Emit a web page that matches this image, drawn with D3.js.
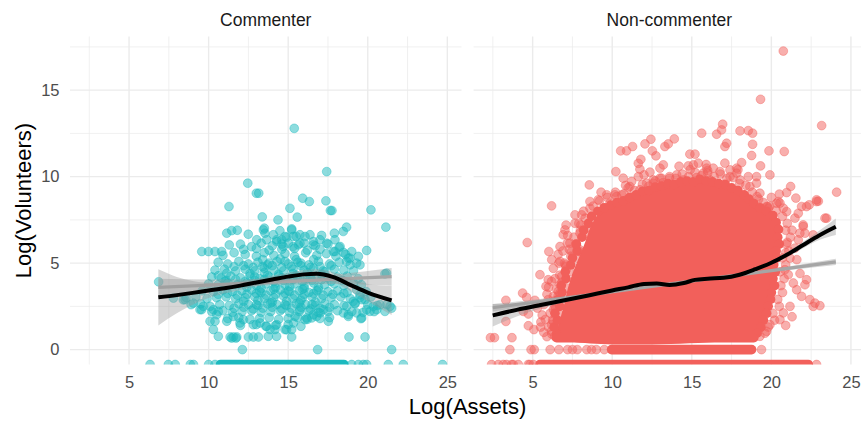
<!DOCTYPE html>
<html>
<head>
<meta charset="utf-8">
<script src="https://cdn.jsdelivr.net/npm/d3@7/dist/d3.min.js"></script>
<style>
  body { margin: 0; background: #fff; }
  svg { display: block; }
  text { font-family: "Liberation Sans", Arial, Helvetica, sans-serif; }
</style>
</head>
<body>
<svg id="chart" width="861" height="421"></svg>
<script>
// ---- Facets and axis ticks ----
const facets = ["Commenter", "Non-commenter"];
const xTicks = [5, 10, 15, 20, 25];
const yTicks = [0, 5, 10, 15];
const xMinorTicks = [2.5, 7.5, 12.5, 17.5, 22.5];
const yMinorTicks = [2.5, 7.5, 12.5, 17.5];

// ---- Commenter organisations: [log(assets), log(volunteers)] ----
// -Infinity marks organisations reporting no volunteers (drawn on the panel floor).
const commenterPoints = [
  [15.38,12.79],[17.42,10.29],[12.46,9.62],[13.0,9.04],[13.15,9.04],[15.91,8.75],[16.33,8.56],[17.37,8.6],
  [11.28,8.27],[15.11,8.17],[17.65,8.04],[17.75,8.04],[20.2,8.08],[13.37,7.67],[15.57,7.66],[14.36,7.5],
  [21.14,7.08],[18.67,7.08],[15.22,6.98],[18.46,6.83],[11.14,6.73],[11.45,6.88],[11.8,6.9],[12.49,6.67],
  [13.5,7.02],[13.54,6.73],[13.02,6.35],[14.07,6.64],[14.48,6.87],[14.28,6.35],[14.59,6.35],[17.9,6.73],
  [17.94,6.35],[17.1,6.6],[13.44,6.92],[13.65,6.35],[14.8,6.54],[15.22,6.92],[15.33,6.54],[15.74,6.64],
  [16.06,6.54],[16.37,6.64],[16.58,6.25],[17.0,6.35],[14.9,6.5],[15.5,6.55],[14.28,6.25],[15.01,6.15],
  [15.64,6.06],[18.26,5.96],[17.84,5.67],[9.57,5.67],[9.99,5.67],[10.4,5.67],[10.82,5.67],[18.99,5.67],
  [19.93,5.73],[18.47,5.62],[19.41,5.39],[18.78,5.29],[21.08,4.38],[21.18,4.42],
  [14.69,5.96],[15.74,6.15],[16.58,6.06],[17.42,6.15],[17.94,5.67],[18.88,5.29],[19.51,4.9],[18.67,5.1],
  [6.86,3.92],[7.79,2.98],[8.52,2.89],[9.04,2.69],[9.46,2.31],[9.67,2.5],[10.3,2.31],[10.51,2.02],
  [10.09,1.64],[10.4,1.64],[10.3,1.16],[10.61,0.77],[11.35,0.73],[11.56,0.73],[11.77,0.73],[12.5,0.73],
  [12.81,0.73],[13.13,0.73],[11.97,1.54],[12.18,1.73],[12.81,1.44],[13.23,1.54],[13.86,1.16],[14.17,1.16],
  [13.65,1.35],[14.28,1.44],[14.8,1.16],[15.22,1.16],[15.22,0.73],[15.33,1.54],[16.06,1.73],[16.48,1.83],
  [16.79,1.92],[17.0,2.12],[17.52,1.64],[21.4,2.5],[21.5,2.4],[20.35,2.5],[20.77,2.6],[19.93,2.31],
  [19.83,2.89],[19.51,3.17],[19.09,2.79],[18.68,2.5],[18.47,2.12],[18.78,2.02],[19.3,2.12],[19.57,1.79],
  [19.83,0.73],[18.82,0.73],[16.85,0.0],[21.5,0.0],[12.12,0.0],[8.41,2.88],[9.56,2.31],[10.09,2.5],
  [10.61,2.21],[11.14,1.64],[11.55,1.92],[11.45,0.67],[11.72,0.67],[13.75,0.77],[14.27,0.77],
  [10.61,4.27],[11.14,4.42],[11.03,3.94],[21.08,2.21],[20.56,2.31],[20.14,2.21],[19.62,1.83],[19.62,2.89],
  [19.2,2.69],[18.78,1.92],[17.21,2.31],[16.58,2.02],[16.16,1.83],[15.74,2.31],[14.9,1.15],[15.43,1.92],
  [11.3,6.05],[12.0,6.1],[12.7,5.95],[13.3,6.15],[14.0,6.0],[14.6,6.1],[15.3,5.95],[16.0,6.15],[16.7,6.0],[17.5,6.1],[18.2,5.9],
  [10.9,5.45],[11.6,5.6],[12.3,5.5],[13.0,5.4],[13.5,5.6],[14.1,5.45],[14.8,5.55],[15.4,5.4],[16.1,5.6],[16.8,5.45],[17.4,5.55],[18.0,5.4],[18.6,5.5],
  [10.6,5.05],[11.2,4.95],[11.9,5.1],[12.5,4.95],[13.1,5.05],[13.7,4.9],[14.3,5.1],[15.0,4.95],[15.6,5.05],[16.3,4.9],[16.9,5.1],[17.6,4.95],[18.2,5.05],[18.9,4.9],[19.3,5.0],
  [10.4,4.6],[11.0,4.65],[11.7,4.55],[12.3,4.65],[12.9,4.55],[13.5,4.7],[14.1,4.6],[14.7,4.55],[15.3,4.65],[16.0,4.6],[16.6,4.7],[17.2,4.55],[17.9,4.65],[18.5,4.6],[19.1,4.55],
  [10.2,4.2],[10.8,4.15],[11.4,4.25],[12.0,4.15],[12.6,4.25],[13.2,4.1],[13.8,4.2],[14.4,4.25],[15.0,4.15],[15.6,4.2],[16.2,4.1],[16.8,4.25],[17.5,4.15],[18.1,4.2],[18.7,4.25],[19.4,4.1],
  [10.0,3.8],[10.6,3.75],[11.2,3.85],[11.8,3.75],[12.4,3.85],[13.0,3.7],[13.6,3.8],[14.2,3.85],[14.8,3.75],[15.4,3.8],[16.0,3.7],[16.6,3.85],[17.3,3.75],[17.9,3.8],[18.5,3.7],[19.1,3.85],[19.6,3.75],
  [9.6,3.4],[10.3,3.35],[10.9,3.45],[11.5,3.35],[12.1,3.4],[12.7,3.45],[13.3,3.3],[13.9,3.4],[14.5,3.45],[15.1,3.35],[15.7,3.4],[16.3,3.3],[16.9,3.45],[17.5,3.35],[18.1,3.4],[18.7,3.3],[19.3,3.45],[19.9,3.35],
  [8.6,3.0],[9.2,3.05],[9.9,2.95],[10.5,3.0],[11.1,3.05],[11.7,2.95],[12.3,3.0],[12.9,3.05],[13.5,2.95],[14.1,3.0],[14.7,3.1],[15.3,2.95],[15.9,3.0],[16.5,3.05],[17.1,2.95],[17.7,3.0],[18.3,3.05],[18.9,2.95],[19.5,3.0],[20.2,3.05],
  [8.9,2.6],[9.5,2.65],[10.7,2.6],[11.3,2.55],[11.9,2.65],[12.5,2.6],[13.1,2.55],[13.7,2.65],[14.3,2.6],[14.9,2.55],[15.5,2.65],[16.1,2.6],[16.7,2.55],[17.3,2.65],[17.9,2.6],[18.5,2.55],[19.2,2.65],[20.0,2.6],[20.6,2.55],[21.2,2.6],
  [10.2,2.2],[10.9,2.25],[11.5,2.15],[12.1,2.2],[12.7,2.25],[13.3,2.15],[13.9,2.2],[14.5,2.25],[15.1,2.15],[15.7,2.2],[16.3,2.25],[16.9,2.15],[17.5,2.2],[18.1,2.25],[19.0,2.2],[19.7,2.15],[20.4,2.2],
  [11.2,1.8],[11.9,1.85],[12.6,1.75],[13.2,1.8],[13.8,1.85],[14.4,1.75],[15.0,1.8],[15.6,1.85],[16.2,1.75],[17.0,1.8],[17.6,1.85],
  [12.0,1.4],[13.0,1.45],[13.6,1.35],[14.2,1.4],[15.0,1.45],[15.8,1.35],
  [12.6,4.4],[13.5,4.45],[14.4,4.35],[15.3,4.4],[16.2,4.45],[17.1,4.35],
  [12.4,3.6],[13.3,3.55],[14.2,3.6],[15.1,3.65],[16.0,3.55],[16.9,3.6],
  [12.2,2.8],[13.1,2.85],[14.0,2.75],[14.9,2.8],[15.8,2.85],[16.7,2.75],
  [13.4,5.2],[14.5,5.25],[15.5,5.2],
  [11.6,4.8],[12.2,4.85],[12.8,4.75],[13.4,4.8],[14.0,4.85],[14.6,4.75],[15.2,4.8],[15.8,4.85],[16.4,4.75],[17.0,4.8],[17.7,4.85],
  [11.1,4.0],[11.7,4.05],[12.3,3.95],[12.9,4.0],[13.5,4.05],[14.1,3.95],[14.7,4.0],[15.3,4.05],[15.9,3.95],[16.5,4.0],[17.1,4.05],[17.7,3.95],[18.4,4.0],
  [10.6,3.2],[11.2,3.25],[11.8,3.15],[12.4,3.2],[13.0,3.25],[13.6,3.15],[14.2,3.2],[14.8,3.25],[15.4,3.15],[16.0,3.2],[16.6,3.25],[17.2,3.15],[17.8,3.2],[18.5,3.25],
  [11.6,2.4],[12.2,2.45],[12.8,2.35],[13.4,2.4],[14.0,2.45],[14.6,2.35],[15.2,2.4],[15.8,2.45],[16.4,2.35],[17.0,2.4],[17.6,2.45],
  [12.2,5.8],[13.0,5.85],[13.8,5.75],[14.6,5.8],[15.4,5.85],[16.2,5.75],[17.0,5.8],
  [12.9,4.2],[13.7,4.3],[14.6,4.15],[15.5,4.3],[16.4,4.2],[13.2,3.4],[14.1,3.5],[15.0,3.4],[15.9,3.5],[16.8,3.4],
  [13.0,2.6],[13.9,2.7],[14.8,2.6],[15.7,2.7],[16.5,2.6],[13.8,5.0],[14.8,5.1],[15.8,5.0],[16.6,5.2],[17.3,4.5],
  [6.32,-Infinity],[7.47,-Infinity],[7.9,-Infinity],[8.85,-Infinity],[9.05,-Infinity],[10.0,-Infinity],
  [10.4,-Infinity],[18.99,-Infinity],[19.41,-Infinity],[19.72,-Infinity],[19.93,-Infinity],[21.29,-Infinity],
  [22.23,-Infinity],[24.7,-Infinity]
];
// Unbroken stretches of overlapping points: [from, to, log(volunteers)]
const commenterRuns = [[10.75, 18.5, -Infinity]];

// ---- Non-commenter organisations ----
const nonCommenterPoints = [
  [20.75,17.26],[19.32,14.47],[23.16,12.95],[16.94,13.03],[16.87,12.7],[16.56,12.45],[15.62,12.51],[18.03,12.64],
  [18.55,12.66],[18.82,12.51],[18.82,11.87],[17.19,11.93],[17.08,11.74],[19.85,11.49],[20.81,11.45],[18.76,11.22],
  [13.9,12.18],[14.88,11.3],[15.2,11.3],[14.78,10.62],[15.1,10.68],[15.41,10.78],[15.93,10.49],[16.35,10.49],
  [17.08,10.78],[17.82,10.49],[18.13,10.81],[19.32,10.62],[19.91,10.1],[19.07,10.0],[24.1,9.1],[22.95,8.58],
  [21.21,9.43],[20.96,9.08],[20.5,8.99],[20.43,8.56],[21.54,8.76],[22.38,8.37],[21.9,8.27],[19.76,8.27],[20.75,8.18],
  [6.19,8.31],[8.56,9.52],[8.6,8.56],[9.12,8.66],[9.65,8.95],[10.17,8.95],[10.74,9.01],[10.23,10.29],
  [10.53,11.49],[10.9,11.49],[11.28,11.74],[12.06,11.89],[12.43,12.16],[12.52,11.49],[12.75,11.2],[13.31,11.74],
  [13.52,11.89],[11.64,10.77],[11.8,11.0],[11.74,10.43],[12.37,10.26],[13.0,10.49],[13.21,10.68],[10.69,9.91],
  [10.84,9.49],[11.22,9.72],[11.64,10.0],[13.0,9.91],[12.58,9.62],
  [4.66,6.19],[6.02,5.67],[7.66,7.79],[8.03,7.21],[8.39,7.02],[6.92,6.64],[7.18,6.16],[6.72,5.96],[8.5,6.58],
  [7.97,6.73],[7.45,5.67],[7.97,5.67],[6.65,5.0],[7.07,4.9],[5.46,4.33],[5.98,4.04],[6.19,3.94],[5.84,3.66],
  [4.37,3.27],[3.32,2.85],[4.62,3.02],[5.14,2.85],[5.98,2.89],[6.3,3.08],[6.72,3.27],[4.41,2.21],[4.73,2.06],
  [6.3,2.31],[3.32,1.63],[4.73,1.38],[5.08,1.16],[5.52,1.6],[6.19,1.44],[6.61,1.16],[6.92,1.44],
  [2.35,0.69],[2.6,0.69],[3.7,0.69],
  [6.72,5.1],[7.09,4.81],[7.34,4.52],[6.82,4.23],[6.72,3.75],[7.18,3.56],[6.61,3.37],[6.82,2.89],[6.4,2.5],
  [6.72,2.02],[6.3,1.64],[6.61,1.35],[6.19,1.06],[6.4,0.77],[7.03,6.92],[7.66,7.3],[8.08,7.79],[8.6,8.17],
  [7.34,6.16],[7.97,5.77],[7.76,5.29],
  [11.11,9.43],[11.74,9.24],[12.16,9.62],[12.58,9.81],[13.1,9.91],[10.28,8.85],[10.9,8.66],[11.53,8.66],
  [9.86,8.47],[10.07,8.27],[9.65,8.18],[14.05,10.1],[14.47,9.81],[15.72,10.2],[16.77,10.29],[16.14,9.81],
  [17.4,10.0],[18.03,9.81],[19.07,9.62],[18.65,9.43],[19.28,9.04],[19.7,8.27],[20.54,8.47],[18.55,10.0],
  [17.82,10.2],[17.4,10.39],[13.6,9.9],[14.9,10.4],[15.3,9.95],[16.0,10.35],[19.2,8.7],
  [19.81,8.17],[20.33,8.46],[20.96,7.98],[21.48,7.6],[22.0,7.21],[22.11,6.73],[21.69,6.35],[21.48,5.87],
  [21.17,5.29],[20.85,4.62],[21.06,4.33],[21.38,3.85],[21.59,3.46],[22.11,3.75],[21.9,3.08],[22.42,2.89],
  [23.05,2.54],[22.74,2.69],[21.17,2.5],[20.75,2.12],[20.54,1.73],[19.91,1.44],[19.7,1.06],[19.28,0.77],
  [22.21,8.27],[22.84,8.66],[23.37,7.6],[22.63,6.63],[21.69,7.88],[22.84,8.56],[23.47,7.6],[22.0,7.12],
  [21.79,6.73],[22.21,4.04],[22.63,2.5],[21.3,6.9],[21.0,6.2],[20.9,5.6],
  [6.2,0.9],[6.0,1.3],[6.25,1.7],[6.1,2.1],[6.45,2.4],[6.3,2.8],[6.6,3.1],[6.5,3.5],[6.85,3.9],[6.7,4.3],
  [7.1,4.6],[7.0,5.0],[7.4,5.4],[7.3,5.8],[7.7,6.1],[7.6,6.5],[8.0,6.9],[7.9,7.3],[8.3,7.6],[8.2,8.0],
  [8.8,8.3],[9.2,8.6],[9.7,8.8],[10.2,9.1],[10.6,8.95],[11.0,9.35],[11.4,9.2],[11.9,9.55],[12.3,9.45],
  [12.7,9.75],[13.2,9.65],[13.6,10.0],[14.0,9.9],[14.4,10.15],[14.8,10.0],[15.2,10.25],[15.6,10.05],
  [16.0,10.2],[16.4,10.0],[16.8,10.15],[17.2,9.9],[17.6,9.95],[18.0,9.6],[18.4,9.5],[18.8,9.1],[19.1,8.85],
  [19.5,8.5],[19.9,8.3],[20.3,8.05],[20.7,7.7],[21.0,7.3],[20.9,6.9],[21.2,6.5],[20.95,6.1],[21.1,5.7],
  [20.7,5.3],[20.9,4.9],[20.55,4.5],[20.8,4.1],[20.6,3.7],[20.7,3.3],[20.4,2.9],[20.5,2.5],[20.1,2.1],
  [20.2,1.7],[19.8,1.3],[19.6,0.95],
  [5.7,1.0],[5.6,2.0],[5.9,3.2],[6.3,4.7],[6.6,5.5],[7.1,7.2],[9.3,9.1],[12.0,10.1],[14.2,10.6],[15.9,10.7],
  [17.9,10.4],[20.0,8.8],[21.6,5.2],[21.8,4.4],[21.3,1.9],[20.9,1.4],
  [5.9,0.75],[5.5,1.3],[5.8,1.75],[5.3,2.4],[5.7,2.6],[6.0,3.6],[6.4,4.1],[6.2,5.2],[6.9,5.7],[7.2,6.6],
  [3.57,0],[4.9,0],[5.1,0],[6.1,0],[6.65,0],[7.2,0],[7.5,0],[7.8,0],[8.4,0],[8.7,0],[9.0,0],[9.5,0],[19.38,0],
  [2.42,-Infinity],[2.84,-Infinity],[3.15,-Infinity],[3.36,-Infinity],[3.68,-Infinity],[3.78,-Infinity],
  [4.1,-Infinity],[4.72,-Infinity],[4.83,-Infinity],[5.04,-Infinity],[22.84,-Infinity]
];
// Stacks of many coincident points along the edge of the dense mass (drawn opaque)
const nonCommenterRim = [
  [6.5,0.9],[6.35,1.3],[6.55,1.7],[6.4,2.1],[6.7,2.5],[6.6,2.9],[6.85,3.3],[6.8,3.7],[7.1,4.1],[7.05,4.5],
  [7.4,4.9],[7.5,5.3],[7.8,5.7],[7.75,6.1],[8.1,6.5],[8.2,6.9],[8.5,7.3],[8.7,7.7],[9.1,8.0],[9.5,8.2],
  [9.9,8.35],[10.3,8.5],[10.7,8.6],[11.1,8.8],[11.5,8.95],[11.9,9.15],[12.3,9.2],[12.7,9.4],[13.1,9.45],
  [13.5,9.6],[13.9,9.55],[14.3,9.7],[14.7,9.75],[15.1,9.7],[15.5,9.85],[15.9,9.75],[16.3,9.7],[16.7,9.6],
  [17.1,9.55],[17.5,9.35],[17.9,9.2],[18.3,8.95],[18.6,8.7],[18.9,8.45],[19.3,8.2],[19.7,8.0],[20.1,7.75],
  [20.3,7.35],[20.45,6.95],[20.4,6.5],[20.5,6.1],[20.3,5.7],[20.35,5.3],[20.15,4.9],[20.25,4.5],[20.1,4.1],
  [20.2,3.7],[20.0,3.3],[19.95,2.9],[19.8,2.5],[19.7,2.1],[19.5,1.7],[19.35,1.3],[19.1,0.95]
];
const nonCommenterRuns = [[6.5, 18.9, 0.69], [9.96, 18.76, 0], [5.46, 22.32, -Infinity]];
// Outline of the saturated mass of overlapping points
const nonCommenterCore = [
  [6.7,0.69],[6.6,1.3],[6.8,2.0],[7.0,2.7],[7.2,3.5],[7.5,4.4],[7.9,5.3],[8.3,6.2],[8.6,7.0],[9.0,7.7],
  [9.6,8.2],[10.4,8.5],[11.2,8.8],[12.0,9.1],[12.8,9.3],[13.6,9.5],[14.5,9.6],[15.4,9.7],[16.3,9.65],
  [17.2,9.5],[18.0,9.15],[18.6,8.7],[19.2,8.2],[19.9,7.8],[20.4,7.0],[20.4,6.0],[20.1,5.0],[20.1,4.0],
  [19.9,3.1],[19.6,2.3],[19.3,1.5],[19.0,0.9],[18.7,0.69]
];

// ---- Smoothers: [x, fit, lower, upper] ----
const commenterLoess = [
  [6.84,3.02,1.4,4.64],[8.0,3.15,2.1,4.2],[9.0,3.28,2.6,3.96],[10.0,3.42,2.98,3.86],[11.0,3.55,3.24,3.86],
  [12.0,3.7,3.45,3.95],[13.0,3.88,3.66,4.1],[14.0,4.05,3.83,4.27],[15.0,4.22,3.99,4.45],[16.0,4.35,4.1,4.6],
  [16.8,4.38,4.12,4.64],[17.8,4.2,3.92,4.48],[19.0,3.7,3.33,4.07],[20.0,3.3,2.8,3.8],[21.5,2.85,2.0,3.7]
];
const commenterLinear = [
  [6.84,3.6,3.1,4.1],[10.0,3.73,3.4,4.06],[14.0,3.9,3.74,4.06],[18.0,4.07,3.8,4.34],[21.5,4.22,3.72,4.72]
];
const nonCommenterLoess = [
  [2.49,1.98,1.33,2.63],[4.0,2.3,1.92,2.68],[5.5,2.58,2.38,2.78],[7.0,2.85,2.72,2.98],[8.5,3.13,3.04,3.22],
  [10.0,3.42,3.36,3.48],[11.0,3.6,3.55,3.65],[12.0,3.8,3.75,3.85],[12.8,3.82,3.77,3.87],[13.6,3.74,3.7,3.78],
  [14.5,3.85,3.81,3.89],[15.2,4.03,3.99,4.07],[16.0,4.1,4.06,4.14],[17.0,4.15,4.1,4.2],[18.0,4.33,4.27,4.39],
  [19.0,4.65,4.57,4.73],[20.0,5.02,4.92,5.12],[21.0,5.5,5.36,5.64],[22.0,6.05,5.86,6.24],[23.0,6.6,6.33,6.87],
  [24.05,7.1,6.62,7.58]
];
const nonCommenterLinear = [
  [2.49,2.42,2.2,2.64],[8.0,3.1,3.02,3.18],[14.0,3.84,3.81,3.87],[20.0,4.57,4.49,4.65],[24.05,5.07,4.89,5.25]
];

const facetData = [
  { name: facets[0], color: "#1BB9BE", points: commenterPoints, rim: [], runs: commenterRuns, core: null,
    loess: commenterLoess, linear: commenterLinear },
  { name: facets[1], color: "#F2605B", points: nonCommenterPoints, rim: nonCommenterRim, runs: nonCommenterRuns,
    core: nonCommenterCore, loess: nonCommenterLoess, linear: nonCommenterLinear }
];

// ---- Layout ----
const svg = d3.select("#chart");
const panelLeft = [70, 473.6];
const panelWidth = 391.5;
const panelTop = 36.5, panelBottom = 364.5;
const radius = 4.4;
const gridColor = "#EBEBEB";

const y = d3.scaleLinear().domain([-0.86, 18.1]).range([panelBottom, panelTop]);
const yPos = v => Number.isFinite(v) ? y(v) : panelBottom;

facetData.forEach((f, i) => {
  const x = d3.scaleLinear().domain([1.29, 25.89]).range([panelLeft[i], panelLeft[i] + panelWidth]);
  const g = svg.append("g");
  const clipId = "clip" + i;
  svg.append("clipPath").attr("id", clipId).append("rect")
    .attr("x", panelLeft[i]).attr("y", panelTop).attr("width", panelWidth).attr("height", panelBottom - panelTop);

  // grid
  const grid = g.append("g");
  grid.selectAll("line.xminor").data(xMinorTicks).join("line")
    .attr("x1", d => x(d)).attr("x2", d => x(d)).attr("y1", panelTop).attr("y2", panelBottom)
    .attr("stroke", gridColor).attr("stroke-width", 0.75);
  grid.selectAll("line.yminor").data(yMinorTicks).join("line")
    .attr("x1", panelLeft[i]).attr("x2", panelLeft[i] + panelWidth).attr("y1", d => y(d)).attr("y2", d => y(d))
    .attr("stroke", gridColor).attr("stroke-width", 0.75);
  grid.selectAll("line.xmajor").data(xTicks).join("line")
    .attr("x1", d => x(d)).attr("x2", d => x(d)).attr("y1", panelTop).attr("y2", panelBottom)
    .attr("stroke", gridColor).attr("stroke-width", 1.4);
  grid.selectAll("line.ymajor").data(yTicks).join("line")
    .attr("x1", panelLeft[i]).attr("x2", panelLeft[i] + panelWidth).attr("y1", d => y(d)).attr("y2", d => y(d))
    .attr("stroke", gridColor).attr("stroke-width", 1.4);

  const plot = g.append("g").attr("clip-path", `url(#${clipId})`);

  // individual points
  plot.selectAll("circle.pt").data(f.points).join("circle").attr("class", "pt")
    .attr("cx", d => x(d[0])).attr("cy", d => yPos(d[1])).attr("r", radius)
    .attr("fill", f.color).attr("fill-opacity", 0.5)
    .attr("stroke", f.color).attr("stroke-opacity", 0.45).attr("stroke-width", 0.9);
  // saturated core
  if (f.core) {
    plot.append("path")
      .attr("d", d3.line().x(d => x(d[0])).y(d => y(d[1])).curve(d3.curveCatmullRomClosed.alpha(0.5))(f.core))
      .attr("fill", f.color);
  }
  // stacked points on the rim of the core
  plot.selectAll("circle.rim").data(f.rim).join("circle").attr("class", "rim")
    .attr("cx", d => x(d[0])).attr("cy", d => y(d[1])).attr("r", radius + 0.4)
    .attr("fill", f.color);
  // solid runs of overlapping points
  plot.selectAll("line.run").data(f.runs).join("line")
    .attr("x1", d => x(d[0])).attr("x2", d => x(d[1]))
    .attr("y1", d => yPos(d[2])).attr("y2", d => yPos(d[2]))
    .attr("stroke", f.color).attr("stroke-width", radius * 2 + 0.8).attr("stroke-linecap", "round");

  // smoothers
  const band = d3.area().x(d => x(d[0])).y0(d => y(d[2])).y1(d => y(d[3])).curve(d3.curveMonotoneX);
  const fit = d3.line().x(d => x(d[0])).y(d => y(d[1])).curve(d3.curveMonotoneX);
  plot.append("path").attr("d", band(f.linear)).attr("fill", "#999999").attr("fill-opacity", 0.4);
  plot.append("path").attr("d", fit(f.linear)).attr("fill", "none").attr("stroke", "#A6A6A6").attr("stroke-width", 3.2);
  plot.append("path").attr("d", band(f.loess)).attr("fill", "#999999").attr("fill-opacity", 0.4);
  plot.append("path").attr("d", fit(f.loess)).attr("fill", "none").attr("stroke", "#000").attr("stroke-width", 4)
    .attr("stroke-linejoin", "round").attr("stroke-linecap", "butt");

  // x axis
  const xAxis = g.append("g").attr("transform", `translate(0,${panelBottom})`)
    .call(d3.axisBottom(x).tickValues(xTicks).tickSize(0).tickPadding(11.3).tickFormat(d3.format("d")));
  xAxis.select(".domain").remove();
  xAxis.selectAll("text").attr("fill", "#4D4D4D").style("font-size", "16.5px")
    .style("font-family", "'Liberation Sans', Arial, Helvetica, sans-serif");

  // strip label
  g.append("text").attr("x", panelLeft[i] + panelWidth / 2).attr("y", 26)
    .attr("text-anchor", "middle").attr("fill", "#1A1A1A").style("font-size", "17.5px").text(f.name);
});

// y axis (shared, left panel only)
const yAxis = svg.append("g").attr("transform", `translate(${panelLeft[0]},0)`)
  .call(d3.axisLeft(y).tickValues(yTicks).tickSize(0).tickPadding(10.5).tickFormat(d3.format("d")));
yAxis.select(".domain").remove();
yAxis.selectAll("text").attr("fill", "#4D4D4D").style("font-size", "16.5px")
  .style("font-family", "'Liberation Sans', Arial, Helvetica, sans-serif");

// axis titles
svg.append("text").attr("x", (panelLeft[0] + panelLeft[1] + panelWidth) / 2).attr("y", 413.5)
  .attr("text-anchor", "middle").attr("fill", "#000").style("font-size", "22px").text("Log(Assets)");
svg.append("text").attr("transform", `translate(31,${(panelTop + panelBottom) / 2}) rotate(-90)`)
  .attr("text-anchor", "middle").attr("fill", "#000").style("font-size", "22px").text("Log(Volunteers)");
</script>
</body>
</html>
